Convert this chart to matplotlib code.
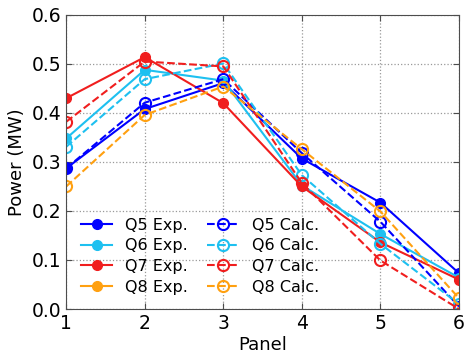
import matplotlib
matplotlib.use("Agg")
import matplotlib.pyplot as plt
import numpy as np

# ---------------------------------------------------------------------------
# Data
# ---------------------------------------------------------------------------
panels = [1, 2, 3, 4, 5, 6]

q5_exp = [0.287, 0.408, 0.461, 0.307, 0.217, 0.073]
q6_exp = [0.348, 0.488, 0.466, 0.252, 0.153, 0.064]
q7_exp = [0.430, 0.514, 0.420, 0.250, 0.136, 0.060]
q8_exp = [np.nan] * 6  # no experimental markers visible for Q8

q5_calc = [0.287, 0.421, 0.469, 0.318, 0.178, 0.005]
q6_calc = [0.331, 0.469, 0.501, 0.273, 0.133, 0.010]
q7_calc = [0.382, 0.505, 0.495, 0.257, 0.099, 0.000]
q8_calc = [0.250, 0.396, 0.454, 0.326, 0.199, 0.022]

names = ["Q5", "Q6", "Q7", "Q8"]
colors = ["#0000ff", "#1ec0f0", "#f01e1e", "#ffa010"]

exp_series = [q5_exp, q6_exp, q7_exp, q8_exp]
calc_series = [q5_calc, q6_calc, q7_calc, q8_calc]

fig = plt.figure(figsize=(4.66, 3.56), dpi=100)
ax = fig.add_axes([0.142, 0.132, 0.843, 0.826])

for name, col, ys in zip(names, colors, exp_series):
    ax.plot(panels, ys, color=col, lw=1.5, marker="o", ms=7,
            mec=col, mfc=col, label=f"{name} Exp.")

for name, col, ys in zip(names, colors, calc_series):
    ax.plot(panels, ys, color=col, lw=1.5, ls="--", marker="o", ms=8,
            mfc="none", mec=col, mew=1.5, label=f"{name} Calc.")

ax.set_xlim(1, 6)
ax.set_ylim(0, 0.6)
ax.set_xticks(panels)
ax.set_yticks(np.arange(0, 0.61, 0.1))
ax.yaxis.set_major_formatter(matplotlib.ticker.FormatStrFormatter("%.1f"))
ax.tick_params(direction="in", top=True, right=True, labelsize=13.5, length=4,
               color="0.3")
ax.grid(True, ls=":", color="0.6", lw=0.9)
for s in ax.spines.values():
    s.set_color("0.3")

ax.set_xlabel("Panel", fontsize=13, labelpad=2)
ax.set_ylabel("Power (MW)", fontsize=13)

ax.legend(loc="lower left", ncol=2, frameon=False, fontsize=11.5,
          handlelength=2.0, columnspacing=1.2, labelspacing=0.35,
          bbox_to_anchor=(0.0, 0.0))

fig.savefig("out.png", dpi=100)
